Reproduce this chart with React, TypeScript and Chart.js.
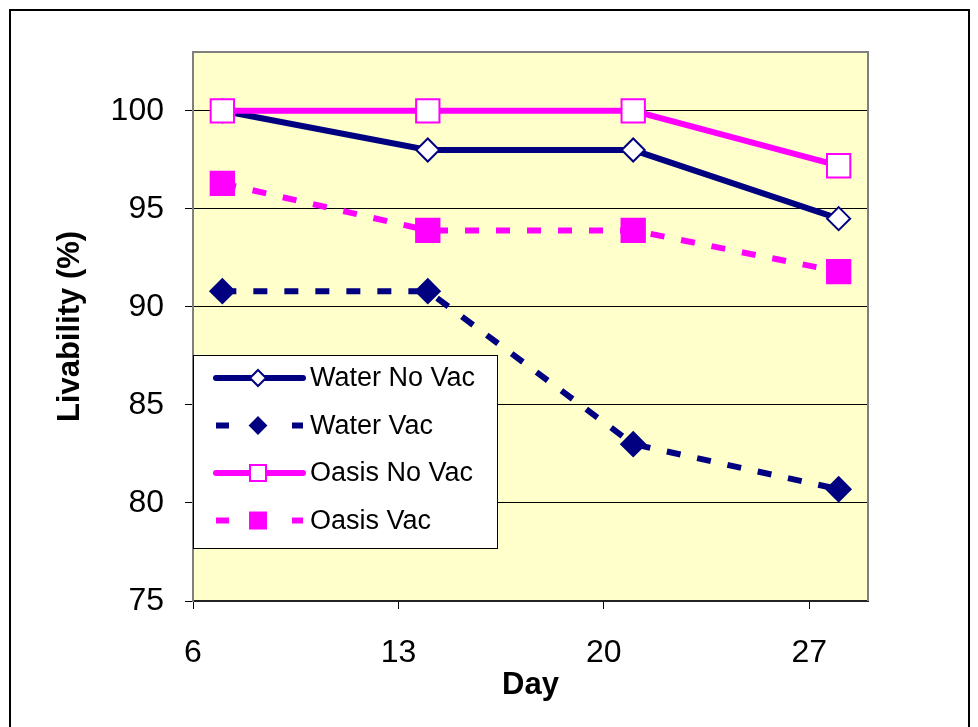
import React, { useEffect, useRef } from 'react';
import { Chart, registerables } from 'chart.js';

Chart.register(...registerables);

// ---- data ----
const days = [7, 14, 21, 28];
const waterNoVac = [100, 98, 98, 94.5];
const waterVac = [90.8, 90.8, 83.0, 80.7];
const oasisNoVac = [100, 100, 100, 97.2];
const oasisVac = [96.3, 93.9, 93.9, 91.8];
const seriesNames = ['Water No Vac', 'Water Vac', 'Oasis No Vac', 'Oasis Vac'];
const xTickValues = [6, 13, 20, 27];
const yTickValues = [75, 80, 85, 90, 95, 100];
const xTitle = 'Day';
const yTitle = 'Livability (%)';

// ---- styles ----
const NAVY = '#000080';
const MAGENTA = '#FF00FF';
const FONT = '"Liberation Sans", Arial, Helvetica, sans-serif';
const DASH = [14, 17];

const toPoints = (vals: number[]) => vals.map((v, i) => ({ x: days[i], y: v }));

const legendStyles = [
  { color: NAVY, dashed: false, shape: 'diamond', fill: '#ffffff' },
  { color: NAVY, dashed: true, shape: 'diamond', fill: NAVY },
  { color: MAGENTA, dashed: false, shape: 'square', fill: '#ffffff' },
  { color: MAGENTA, dashed: true, shape: 'square', fill: MAGENTA },
];

const framePlugin = {
  id: 'frameAndBg',
  beforeDraw(chart: any) {
    const { ctx, chartArea } = chart;
    ctx.save();
    ctx.strokeStyle = '#000';
    ctx.lineWidth = 2;
    ctx.strokeRect(10, 10, 959, 740);
    ctx.fillStyle = '#FFFFCC';
    ctx.fillRect(chartArea.left, chartArea.top, chartArea.right - chartArea.left, chartArea.bottom - chartArea.top);
    ctx.restore();
  },
  beforeDatasetsDraw(chart: any) {
    const { ctx, chartArea } = chart;
    ctx.save();
    ctx.strokeStyle = '#808080';
    ctx.lineWidth = 2;
    ctx.beginPath();
    ctx.moveTo(chartArea.left, chartArea.top);
    ctx.lineTo(chartArea.right, chartArea.top);
    ctx.lineTo(chartArea.right, chartArea.bottom);
    ctx.stroke();
    ctx.restore();
  },
};

const legendPlugin = {
  id: 'customLegend',
  afterDraw(chart: any) {
    const { ctx, chartArea } = chart;
    const l = chartArea.left;
    const t = chartArea.top + 303;
    const w = 304;
    const h = 193;
    ctx.save();
    ctx.fillStyle = '#ffffff';
    ctx.fillRect(l, t, w, h);
    ctx.strokeStyle = '#000';
    ctx.lineWidth = 1;
    ctx.strokeRect(l + 0.5, t + 0.5, w, h);
    seriesNames.forEach((name, i) => {
      const st = legendStyles[i];
      const y = t + 23 + i * 47.5;
      const x0 = l + 20;
      const x1 = l + 112;
      const cx = l + 65;
      ctx.strokeStyle = st.color;
      ctx.lineWidth = 6;
      ctx.lineCap = st.dashed ? 'butt' : 'round';
      ctx.beginPath();
      if (st.dashed) {
        ctx.moveTo(x0 + 3, y);
        ctx.lineTo(x0 + 16, y);
        ctx.moveTo(x1 - 13, y);
        ctx.lineTo(x1 - 2, y);
      } else {
        ctx.moveTo(x0 + 3, y);
        ctx.lineTo(x1 - 2, y);
      }
      ctx.stroke();
      ctx.fillStyle = st.fill;
      ctx.strokeStyle = st.color;
      ctx.lineWidth = 2;
      ctx.beginPath();
      const r = 8;
      if (st.shape === 'diamond') {
        ctx.moveTo(cx, y - r);
        ctx.lineTo(cx + r, y);
        ctx.lineTo(cx, y + r);
        ctx.lineTo(cx - r, y);
        ctx.closePath();
      } else {
        ctx.rect(cx - r, y - r, 2 * r, 2 * r);
      }
      ctx.fill();
      ctx.stroke();
      ctx.fillStyle = '#000';
      ctx.font = `27px ${FONT}`;
      ctx.textBaseline = 'middle';
      ctx.textAlign = 'left';
      ctx.fillText(name, l + 117, y + 1);
    });
    ctx.restore();
  },
};

export default function App() {
  const canvasRef = useRef<HTMLCanvasElement | null>(null);

  useEffect(() => {
    const canvas = canvasRef.current;
    if (!canvas) return;
    const lineBase = {
      borderWidth: 6,
      tension: 0,
      pointBorderWidth: 2,
      clip: false as any,
      fill: false,
    };
    const chart = new Chart(canvas, {
      type: 'line',
      data: {
        datasets: [
          {
            ...lineBase,
            label: seriesNames[0],
            data: toPoints(waterNoVac),
            borderColor: NAVY,
            pointStyle: 'rectRot',
            pointRadius: 11.5,
            pointBackgroundColor: '#ffffff',
            pointBorderColor: NAVY,
            order: 4,
          },
          {
            ...lineBase,
            label: seriesNames[1],
            data: toPoints(waterVac),
            borderColor: NAVY,
            borderDash: DASH,
            borderCapStyle: 'butt',
            pointStyle: 'rectRot',
            pointRadius: 12,
            pointBackgroundColor: NAVY,
            pointBorderColor: NAVY,
            order: 3,
          },
          {
            ...lineBase,
            label: seriesNames[2],
            data: toPoints(oasisNoVac),
            borderColor: MAGENTA,
            pointStyle: 'rect',
            pointRadius: 16.5,
            pointBackgroundColor: '#ffffff',
            pointBorderColor: MAGENTA,
            order: 2,
          },
          {
            ...lineBase,
            label: seriesNames[3],
            data: toPoints(oasisVac),
            borderColor: MAGENTA,
            borderDash: DASH,
            borderCapStyle: 'butt',
            pointStyle: 'rect',
            pointRadius: 16.5,
            pointBackgroundColor: MAGENTA,
            pointBorderColor: MAGENTA,
            order: 1,
          },
        ] as any,
      },
      options: {
        responsive: false,
        animation: false,
        devicePixelRatio: 1,
        layout: { padding: { left: 0, right: 110, top: 52, bottom: 0 } },
        plugins: {
          legend: { display: false },
          tooltip: { enabled: false },
        },
        scales: {
          x: {
            type: 'linear',
            min: 6,
            max: 29,
            afterBuildTicks: (s: any) => {
              s.ticks = xTickValues.map((v) => ({ value: v }));
            },
            afterFit: (s: any) => {
              s.height = 126;
            },
            grid: {
              display: true,
              drawOnChartArea: false,
              drawTicks: true,
              tickLength: 8,
              color: '#000',
              lineWidth: 1,
            },
            border: { display: true, color: '#222', width: 2 },
            ticks: {
              color: '#000',
              font: { family: FONT, size: 32 },
              padding: 25,
              maxRotation: 0,
              autoSkip: false,
              callback: (v: any) => String(v),
            },
            title: {
              display: true,
              text: xTitle,
              color: '#000',
              font: { family: FONT, size: 31, weight: 'bold' },
              padding: { top: 0, bottom: 23 },
            },
          },
          y: {
            type: 'linear',
            min: 75,
            max: 103,
            afterBuildTicks: (s: any) => {
              s.ticks = yTickValues.map((v) => ({ value: v }));
            },
            afterFit: (s: any) => {
              s.width = 193;
            },
            grid: {
              display: true,
              drawOnChartArea: true,
              drawTicks: true,
              tickLength: 8,
              color: '#000',
              lineWidth: 1,
            },
            border: { display: true, color: '#808080', width: 2 },
            ticks: {
              color: '#000',
              font: { family: FONT, size: 32 },
              padding: 21,
              autoSkip: false,
              callback: (v: any) => String(v),
            },
            title: {
              display: true,
              text: yTitle,
              color: '#000',
              font: { family: FONT, size: 31, weight: 'bold' },
              padding: { top: 52, bottom: 0 },
            },
          },
        },
      } as any,
      plugins: [framePlugin, legendPlugin],
    });
    return () => chart.destroy();
  }, []);

  return (
    <div style={{ position: 'fixed', left: 0, top: 0, width: 978, height: 727, background: '#fff' }}>
      <canvas ref={canvasRef} width={978} height={727} style={{ display: 'block' }} />
    </div>
  );
}
